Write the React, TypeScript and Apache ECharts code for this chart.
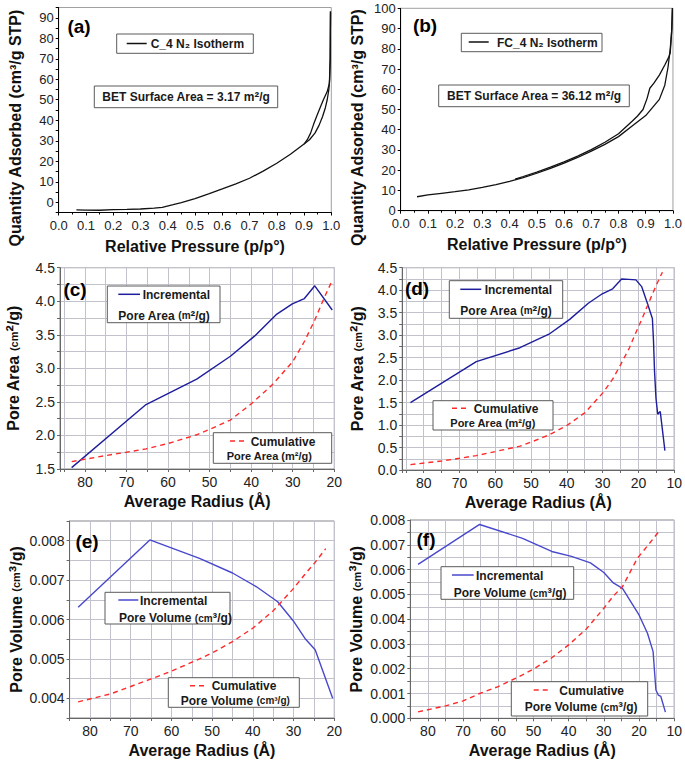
import React, { useEffect, useRef } from "react";
import * as echarts from "echarts";

const FONT = "'Liberation Sans', Arial, sans-serif";

// ---------- (a) C_4 N2 isotherm: [p/p°, quantity] ----------
const aAdsorption: [number, number][] = [
  [0.065, -3.7], [0.1, -3.8], [0.15, -3.9], [0.2, -3.6], [0.25, -3.5], [0.3, -3.3],
  [0.35, -2.9], [0.38, -2.5], [0.42, -1.2], [0.45, -0.2], [0.5, 1.8], [0.55, 4.1],
  [0.6, 6.5], [0.65, 9.0], [0.7, 11.7], [0.75, 15.2], [0.8, 19.0], [0.85, 23.4],
  [0.9, 28.4], [0.92, 30.5], [0.94, 33.7], [0.955, 37.5], [0.968, 41.8], [0.978, 46],
  [0.985, 50], [0.991, 55], [0.994, 60], [0.996, 70], [0.997, 93],
];
const aDesorption: [number, number][] = [
  [0.997, 93], [0.996, 70], [0.993, 58], [0.985, 54], [0.971, 50], [0.96, 46.5],
  [0.946, 41.8], [0.935, 38], [0.924, 33.7], [0.912, 30.5], [0.9, 28.4],
];

// ---------- (b) FC_4 N2 isotherm ----------
const bAdsorption: [number, number][] = [
  [0.06, 6.9], [0.1, 7.8], [0.15, 8.6], [0.2, 9.4], [0.25, 10.3], [0.3, 11.5],
  [0.35, 12.9], [0.4, 14.5], [0.45, 16.3], [0.5, 18.5], [0.55, 20.9], [0.6, 23.5],
  [0.65, 26.3], [0.7, 29.4], [0.75, 32.8], [0.8, 36.6], [0.85, 41.8], [0.9, 47],
  [0.95, 55], [0.97, 62], [0.982, 71], [0.99, 80], [0.996, 90], [0.998, 100],
];
const bDesorption: [number, number][] = [
  [0.998, 100], [0.995, 88], [0.99, 78], [0.985, 76], [0.97, 72], [0.95, 67],
  [0.93, 63], [0.915, 60.5], [0.905, 55.5], [0.89, 50], [0.87, 46.8], [0.85, 44.2],
  [0.8, 38], [0.75, 33.8], [0.7, 30.2], [0.65, 27.0], [0.6, 24.1], [0.55, 21.5],
  [0.5, 19.1], [0.45, 16.9], [0.42, 15.6],
];

// ---------- (c) C_4 pore area: [radius Å, value] ----------
const cIncremental: [number, number][] = [
  [83.2, 1.52], [65.3, 2.46], [53.1, 2.84], [45, 3.18], [39.2, 3.48], [34, 3.8],
  [30.1, 3.96], [27.2, 4.04], [24.7, 4.23], [20.5, 3.87],
];
const cCumulative: [number, number][] = [
  [83.2, 1.61], [75, 1.7], [70, 1.75], [65.3, 1.8], [60, 1.88], [53.1, 2.01],
  [50, 2.09], [45, 2.23], [40, 2.47], [35, 2.75], [30, 3.1], [27.2, 3.4],
  [24.7, 3.72], [22.3, 4.07], [20.8, 4.27],
];

// ---------- (d) FC_4 pore area ----------
const dIncremental: [number, number][] = [
  [83.7, 1.5], [65.3, 2.41], [53.1, 2.72], [45, 3.02], [39.2, 3.35], [34, 3.71],
  [30.1, 3.92], [27.2, 4.03], [24.7, 4.25], [22.7, 4.24], [20.7, 4.23], [19.1, 4.08],
  [17.5, 3.71], [16.1, 3.37], [15.8, 2.9], [15.5, 2.2], [15.1, 1.6], [14.6, 1.24],
  [14.2, 1.28], [13.9, 1.3], [12.6, 0.43],
];
const dCumulative: [number, number][] = [
  [83.7, 0.12], [75, 0.2], [70, 0.26], [65.3, 0.32], [60, 0.41], [53.1, 0.53],
  [50, 0.62], [45, 0.78], [40, 0.99], [35, 1.27], [30, 1.71], [27.2, 2.02],
  [25, 2.34], [22.5, 2.72], [20.7, 3.06], [19, 3.36], [17.5, 3.65], [16, 3.93],
  [14.5, 4.2], [13.3, 4.4],
];

// ---------- (e) C_4 pore volume ----------
const eIncremental: [number, number][] = [
  [82.9, 0.00631], [65.3, 0.00802], [53.1, 0.00755], [45, 0.00718], [39.1, 0.00683],
  [33.9, 0.00645], [30.1, 0.00597], [27.2, 0.00552], [24.7, 0.00523], [20.4, 0.004],
];
const eCumulative: [number, number][] = [
  [82.9, 0.00391], [75, 0.00411], [70, 0.0043], [65.3, 0.00448], [60, 0.00469],
  [53.1, 0.005], [50, 0.00515], [45, 0.00544], [40, 0.00578], [35, 0.00622],
  [30, 0.00679], [27.2, 0.00715], [24.7, 0.00745], [22.1, 0.0078],
];

// ---------- (f) FC_4 pore volume ----------
const fIncremental: [number, number][] = [
  [82.8, 0.00621], [65.3, 0.00782], [53.1, 0.00726], [44.8, 0.00673], [39.2, 0.00653],
  [33.8, 0.00627], [30, 0.00588], [27.3, 0.00546], [24.7, 0.00524], [20, 0.00417],
  [17.6, 0.00343], [16, 0.00269], [15.6, 0.0019], [15.2, 0.00114], [14.5, 0.00093],
  [13.8, 0.00088], [12.5, 0.00025],
];
const fCumulative: [number, number][] = [
  [82.8, 0.00026], [75, 0.0005], [70, 0.0007], [65.3, 0.001], [60, 0.00128],
  [53.1, 0.00175], [50, 0.00199], [45, 0.00242], [40, 0.00296], [35, 0.0036],
  [30, 0.00444], [27.2, 0.00495], [24.7, 0.00531], [20.5, 0.00645], [17, 0.00706],
  [14.3, 0.00755],
];

const GRIDLINE = "#c2c2cc";

function isotermX(gridIndex: number) {
  return {
    type: "value", gridIndex, min: 0, max: 1, interval: 0.1,
    axisLine: { show: true, onZero: false, lineStyle: { color: "#000", width: 1 } },
    axisTick: { show: true, length: 3, lineStyle: { color: "#000" } },
    minorTick: { show: true, splitNumber: 2, length: 2, lineStyle: { color: "#000" } },
    splitLine: { show: false },
    axisLabel: { fontSize: 13, color: "#222", margin: 6, fontFamily: FONT, formatter: (v: number) => v.toFixed(1) },
    name: "Relative Pressure (p/p°)", nameLocation: "middle", nameGap: 26,
    nameTextStyle: { fontSize: 16, fontWeight: "bold", color: "#111", fontFamily: FONT },
  };
}

function isothermY(gridIndex: number, min: number, max: number, interval: number) {
  return {
    type: "value", gridIndex, min, max, interval,
    axisLine: { show: true, onZero: false, lineStyle: { color: "#000", width: 1 } },
    axisTick: { show: true, length: 3, lineStyle: { color: "#000" } },
    splitLine: { show: false },
    axisLabel: {
      fontSize: 13, color: "#222", margin: 5, fontFamily: FONT,
      formatter: (v: number) => (Math.round(v) % 10 === 0 ? String(Math.round(v)) : ""),
    },
    name: "Quantity Adsorbed (cm³/g STP)", nameLocation: "middle", nameGap: 35,
    nameTextStyle: { fontSize: 16, fontWeight: "bold", color: "#111", fontFamily: FONT, padding: [0, 36, 0, 0] },
  };
}

function radiusX(gridIndex: number, min: number, max: number) {
  return {
    type: "value", gridIndex, inverse: true, min, max, interval: 5,
    axisLine: { show: true, onZero: false, lineStyle: { color: "#666", width: 1 } },
    axisTick: { show: true, length: 3, lineStyle: { color: "#666" } },
    splitLine: { show: true, lineStyle: { color: GRIDLINE, width: 1, type: "solid" } },
    axisLabel: {
      fontSize: 14, color: "#222", margin: 6, fontFamily: FONT,
      formatter: (v: number) => (Math.abs(v % 10) < 1e-6 ? String(v) : ""),
    },
    name: "Average Radius (Å)", nameLocation: "middle", nameGap: 24,
    nameTextStyle: { fontSize: 16, fontWeight: "bold", color: "#111", fontFamily: FONT },
  };
}

const nameRich = {
  a: { fontSize: 16, fontWeight: "bold", color: "#111", fontFamily: FONT },
  s: { fontSize: 11, fontWeight: "bold", color: "#111", fontFamily: FONT },
  p: { fontSize: 19, fontWeight: "bold", color: "#111", fontFamily: FONT },
};

function radiusY(
  gridIndex: number, min: number, max: number, interval: number,
  labelFmt: (v: number) => string, name: string, nameGap: number,
) {
  return {
    type: "value", gridIndex, min, max, interval,
    axisLine: { show: true, onZero: false, lineStyle: { color: "#666", width: 1 } },
    axisTick: { show: true, length: 3, lineStyle: { color: "#666" } },
    splitLine: { show: true, lineStyle: { color: GRIDLINE, width: 1, type: "solid" } },
    axisLabel: { fontSize: 14, color: "#222", margin: 5, fontFamily: FONT, formatter: labelFmt },
    name, nameLocation: "middle", nameGap,
    nameTextStyle: { rich: nameRich },
  };
}

const areaFmt = (v: number) => (Math.round(v * 100) % 50 === 0 ? v.toFixed(1) : "");
const volFmt = (v: number) => (Math.round(v * 10000) % 10 === 0 ? v.toFixed(3) : "");

const BLUE_DARK = "#1e1e9c";
const BLUE_LIGHT = "#4848cc";
const RED = "#ff2a2a";

function line(name: string, idx: number, data: [number, number][], color: string, dashed = false, width = 1.4) {
  return {
    type: "line", name, xAxisIndex: idx, yAxisIndex: idx, data, z: 5,
    symbol: "none", showSymbol: false, silent: true,
    lineStyle: { color, width, type: dashed ? [5, 4] : "solid" },
  };
}

// ---------- graphic helpers ----------
const TXT = "#1a1a1a";
function box(x0: number, y0: number, x1: number, y1: number) {
  return {
    type: "rect", z: 100, shape: { x: x0, y: y0, width: x1 - x0, height: y1 - y0 },
    style: { fill: "#fff", stroke: "#5a5a5a", lineWidth: 1 },
  };
}
function sample(x1: number, x2: number, y: number, color: string, dashed = false) {
  return {
    type: "line", z: 101, shape: { x1, y1: y, x2, y2: y },
    style: { stroke: color, lineWidth: 1.5, lineDash: dashed ? [5, 4] : null },
  };
}
function txt(x: number, y: number, text: string, size = 12, rich?: any, align = "left") {
  return {
    type: "text", z: 102, x, y,
    style: {
      text, fill: TXT, fontSize: size, fontWeight: "bold", fontFamily: FONT,
      align, verticalAlign: "middle", textAlign: align, textVerticalAlign: "middle",
      rich,
    },
  };
}
const legRich = {
  a: { fontSize: 12, fontWeight: "bold", fill: TXT, color: TXT, fontFamily: FONT },
  s: { fontSize: 10, fontWeight: "bold", fill: TXT, color: TXT, fontFamily: FONT },
  p: { fontSize: 14, fontWeight: "bold", fill: TXT, color: TXT, fontFamily: FONT },
};
function panelLabel(x: number, y: number, t: string) {
  return {
    type: "text", z: 102, x, y,
    style: {
      text: t, fill: "#000", fontSize: 19, fontWeight: "bold", fontFamily: FONT,
      align: "center", verticalAlign: "middle", textAlign: "center", textVerticalAlign: "middle",
    },
  };
}

const graphic = [
  // (a)
  panelLabel(79, 26, "(a)"),
  box(116.7, 34, 253.3, 53.3),
  sample(126.7, 146.7, 43.5, "#111"),
  txt(150.7, 44, "C_4 N₂ Isotherm", 12),
  box(94.3, 86, 277.7, 107.7),
  txt(186, 97, "{a|BET Surface Area = 3.17 m}{p|²}{a|/g}", 12, legRich, "center"),
  // (b)
  panelLabel(425, 25, "(b)"),
  box(461.3, 33.3, 602, 51.7),
  sample(468.7, 488.7, 42, "#111"),
  txt(497, 42.5, "FC_4 N₂ Isotherm", 12),
  box(438.7, 85, 629.3, 106.7),
  txt(534, 96, "{a|BET Surface Area = 36.12 m}{p|²}{a|/g}", 12, legRich, "center"),
  // (c)
  panelLabel(75, 289.5, "(c)"),
  box(107.3, 286, 220, 322.7),
  sample(118.3, 140, 294.3, BLUE_DARK),
  txt(142.7, 294.5, "Incremental", 12),
  txt(118.3, 315.5, "{a|Pore Area }{s|(m}{p|²}{a|/g)}", 12, legRich),
  box(213.3, 432.7, 331.7, 463.3),
  sample(230, 246.7, 441, RED, true),
  txt(250.7, 441.5, "Cumulative", 12),
  txt(226.7, 456, "Pore Area (m²/g)", 11),
  // (d)
  panelLabel(417, 288.5, "(d)"),
  box(449.3, 280.7, 562.7, 318.3),
  sample(460.3, 481.3, 289.3, BLUE_DARK),
  txt(484.7, 289.5, "Incremental", 12),
  txt(460.3, 310.5, "{a|Pore Area }{s|(m}{p|²}{a|/g)}", 12, legRich),
  box(433, 400.7, 553, 430),
  sample(452, 468.7, 408.3, RED, true),
  txt(473.7, 408.5, "Cumulative", 12),
  txt(450.3, 423, "Pore Area (m²/g)", 11),
  // (e)
  panelLabel(87, 541, "(e)"),
  box(105, 592.3, 230, 624),
  sample(118.3, 138.3, 600, BLUE_LIGHT),
  txt(140, 600.5, "Incremental", 12),
  txt(119, 618, "{a|Pore Volume }{s|(cm}{p|³}{a|/g)}", 12, legRich),
  box(168.3, 677.7, 299.3, 707.3),
  sample(190, 206.7, 685.7, RED, true),
  txt(211.7, 686, "Cumulative", 12),
  txt(180.7, 700.5, "{a|Pore Volume }{s|(cm³/g)}", 12, legRich),
  // (f)
  panelLabel(426, 539, "(f)"),
  box(441, 566.7, 573.7, 599.3),
  sample(452, 473.7, 575, BLUE_LIGHT),
  txt(476, 575.5, "Incremental", 12),
  txt(453.7, 593, "{a|Pore Volume }{s|(cm}{p|³}{a|/g)}", 12, legRich),
  box(511.3, 681.7, 647.7, 716),
  sample(533.7, 550.3, 690, RED, true),
  txt(559.3, 690.5, "Cumulative", 12),
  txt(524.7, 707, "{a|Pore Volume }{s|(cm}{p|³}{a|/g)}", 12, legRich),
];

const gridBase = { show: true, borderWidth: 1, backgroundColor: "transparent" };

const option: any = {
  animation: false,
  backgroundColor: "#fff",
  textStyle: { fontFamily: FONT },
  grid: [
    { ...gridBase, left: 58.7, top: 7.5, width: 272.6, height: 205, borderColor: "#a0a0a0" },
    { ...gridBase, left: 400.7, top: 8.3, width: 272.6, height: 202.4, borderColor: "#a0a0a0" },
    { ...gridBase, left: 60, top: 267.7, width: 274.3, height: 201.3, borderColor: "#888" },
    { ...gridBase, left: 402.2, top: 267.7, width: 273.1, height: 202.3, borderColor: "#888" },
    { ...gridBase, left: 69.6, top: 521, width: 264.7, height: 197, borderColor: "#888" },
    { ...gridBase, left: 410.3, top: 520, width: 265, height: 198.3, borderColor: "#888" },
  ],
  xAxis: [
    isotermX(0),
    isotermX(1),
    radiusX(2, 20, 86),
    radiusX(3, 10, 86),
    radiusX(4, 20, 85),
    radiusX(5, 10, 85),
  ],
  yAxis: [
    isothermY(0, -5, 95, 5),
    isothermY(1, 0, 100, 10),
    radiusY(2, 1.5, 4.5, 0.25, areaFmt, "{a|Pore Area }{s|(cm}{p|²}{a|/g)}", 37),
    radiusY(3, 0, 4.5, 0.25, areaFmt, "{a|Pore Area }{s|(cm}{p|²}{a|/g)}", 35),
    radiusY(4, 0.0035, 0.0085, 0.0005, volFmt, "{a|Pore Volume }{s|(cm}{p|³}{a|/g)}", 44),
    radiusY(5, 0, 0.008, 0.0005, volFmt, "{a|Pore Volume }{s|(cm}{p|³}{a|/g)}", 43),
  ],
  series: [
    line("C_4 N₂ Isotherm (adsorption)", 0, aAdsorption, "#111", false, 1.3),
    line("C_4 N₂ Isotherm (desorption)", 0, aDesorption, "#111", false, 1.3),
    line("FC_4 N₂ Isotherm (adsorption)", 1, bAdsorption, "#111", false, 1.3),
    line("FC_4 N₂ Isotherm (desorption)", 1, bDesorption, "#111", false, 1.3),
    line("C_4 Incremental Pore Area", 2, cIncremental, BLUE_DARK),
    line("C_4 Cumulative Pore Area", 2, cCumulative, RED, true),
    line("FC_4 Incremental Pore Area", 3, dIncremental, BLUE_DARK),
    line("FC_4 Cumulative Pore Area", 3, dCumulative, RED, true),
    line("C_4 Incremental Pore Volume", 4, eIncremental, BLUE_LIGHT),
    line("C_4 Cumulative Pore Volume", 4, eCumulative, RED, true),
    line("FC_4 Incremental Pore Volume", 5, fIncremental, BLUE_LIGHT),
    line("FC_4 Cumulative Pore Volume", 5, fCumulative, RED, true),
  ],
  graphic,
};

export default function App() {
  const ref = useRef<HTMLDivElement>(null);
  useEffect(() => {
    if (!ref.current) return;
    const chart = echarts.init(ref.current, null, { renderer: "svg" });
    chart.setOption(option);
    return () => chart.dispose();
  }, []);
  return (
    <div
      ref={ref}
      style={{ position: "absolute", left: 0, top: 0, width: 685, height: 764, background: "#fff" }}
    />
  );
}
